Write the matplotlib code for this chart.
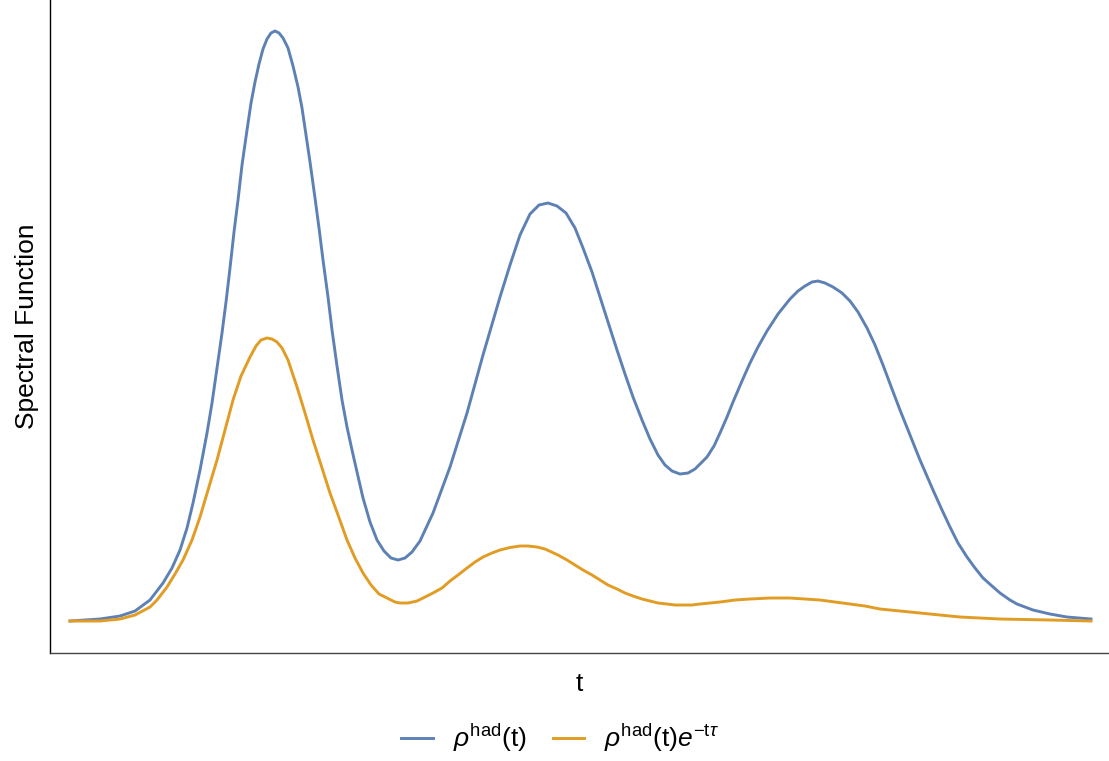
import numpy as np
import matplotlib
matplotlib.use("Agg")
import matplotlib.pyplot as plt

plt.rcParams['font.family'] = ['Liberation Sans', 'DejaVu Sans']
plt.rcParams['mathtext.fontset'] = 'custom'
plt.rcParams['mathtext.rm'] = 'Liberation Sans'
plt.rcParams['mathtext.it'] = 'Liberation Sans:italic'

# values (arbitrary units, no ticks on the original)
t_had = [0.00, 0.30, 0.50, 0.65, 0.80, 0.93, 1.02, 1.10, 1.17, 1.23, 1.30, 1.37,
         1.42, 1.47, 1.52, 1.56, 1.60, 1.64, 1.68, 1.72, 1.77, 1.81, 1.85, 1.89,
         1.93, 1.97, 2.01, 2.05, 2.09, 2.13, 2.18, 2.23, 2.28, 2.32, 2.36, 2.40,
         2.45, 2.49, 2.53, 2.58, 2.62, 2.67, 2.72, 2.77, 2.82, 2.87, 2.93, 3.00,
         3.07, 3.14, 3.21, 3.28, 3.35, 3.42, 3.50, 3.63, 3.80, 3.97, 4.13, 4.30,
         4.40, 4.50, 4.60, 4.69, 4.78, 4.87, 4.96, 5.05, 5.13, 5.22, 5.30, 5.38,
         5.47, 5.55, 5.63, 5.72, 5.80, 5.88, 5.95, 6.02, 6.10, 6.18, 6.25, 6.37,
         6.44, 6.50, 6.57, 6.63, 6.72, 6.80, 6.88, 6.97, 7.08, 7.20, 7.28, 7.35,
         7.42, 7.48, 7.55, 7.63, 7.72, 7.80, 7.88, 7.97, 8.05, 8.13, 8.22, 8.30,
         8.40, 8.50, 8.63, 8.72, 8.80, 8.88, 8.97, 9.05, 9.13, 9.22, 9.30, 9.40,
         9.47, 9.55, 9.63, 9.80, 9.97, 10.21]
rho_had = [0.00, 0.02, 0.05, 0.10, 0.21, 0.38, 0.53, 0.71, 0.93, 1.18, 1.51, 1.88,
           2.18, 2.53, 2.88, 3.19, 3.53, 3.89, 4.21, 4.56, 4.91, 5.18, 5.39, 5.57,
           5.72, 5.82, 5.88, 5.90, 5.88, 5.83, 5.73, 5.55, 5.34, 5.13, 4.86, 4.59,
           4.23, 3.93, 3.61, 3.24, 2.91, 2.55, 2.21, 1.94, 1.71, 1.49, 1.23, 0.99,
           0.81, 0.70, 0.63, 0.61, 0.63, 0.69, 0.80, 1.08, 1.54, 2.08, 2.66, 3.24,
           3.56, 3.86, 4.07, 4.16, 4.18, 4.15, 4.08, 3.93, 3.73, 3.49, 3.24, 2.99,
           2.71, 2.47, 2.24, 2.01, 1.82, 1.66, 1.56, 1.50, 1.47, 1.48, 1.52, 1.64,
           1.75, 1.88, 2.04, 2.19, 2.40, 2.58, 2.74, 2.90, 3.07, 3.22, 3.30, 3.35,
           3.39, 3.40, 3.38, 3.34, 3.28, 3.20, 3.09, 2.93, 2.76, 2.56, 2.32, 2.11,
           1.86, 1.61, 1.31, 1.11, 0.94, 0.78, 0.64, 0.53, 0.43, 0.35, 0.28, 0.21,
           0.17, 0.14, 0.11, 0.07, 0.04, 0.02]

t_weighted = [0.00, 0.30, 0.50, 0.65, 0.80, 0.87, 0.97, 1.05, 1.13, 1.22, 1.30, 1.38,
              1.47, 1.55, 1.63, 1.71, 1.80, 1.86, 1.91, 1.97, 2.02, 2.07, 2.12, 2.18,
              2.27, 2.35, 2.43, 2.52, 2.60, 2.68, 2.77, 2.85, 2.93, 3.01, 3.09, 3.17,
              3.25, 3.30, 3.38, 3.47, 3.55, 3.63, 3.72, 3.80, 3.88, 3.97, 4.05, 4.13,
              4.22, 4.30, 4.40, 4.50, 4.58, 4.67, 4.75, 4.88, 4.97, 5.05, 5.13, 5.22,
              5.30, 5.38, 5.47, 5.55, 5.63, 5.72, 5.80, 5.88, 5.97, 6.05, 6.13, 6.22,
              6.30, 6.40, 6.50, 6.65, 6.80, 7.00, 7.20, 7.35, 7.50, 7.65, 7.80, 7.95,
              8.10, 8.30, 8.50, 8.70, 8.90, 9.10, 9.30, 9.80, 10.21]
rho_weighted = [0.00, 0.00, 0.02, 0.06, 0.14, 0.21, 0.34, 0.47, 0.61, 0.81, 1.04, 1.31,
                1.61, 1.91, 2.21, 2.45, 2.64, 2.75, 2.81, 2.83, 2.82, 2.79, 2.73, 2.61,
                2.34, 2.08, 1.81, 1.53, 1.28, 1.06, 0.81, 0.63, 0.48, 0.36, 0.27, 0.23,
                0.19, 0.18, 0.18, 0.20, 0.24, 0.28, 0.33, 0.40, 0.46, 0.53, 0.59, 0.64,
                0.68, 0.71, 0.735, 0.75, 0.75, 0.74, 0.72, 0.66, 0.61, 0.56, 0.51, 0.46,
                0.41, 0.36, 0.32, 0.28, 0.25, 0.22, 0.20, 0.18, 0.17, 0.16, 0.16, 0.16,
                0.17, 0.18, 0.19, 0.21, 0.22, 0.23, 0.23, 0.22, 0.21, 0.19, 0.17, 0.15,
                0.12, 0.10, 0.08, 0.06, 0.04, 0.03, 0.02, 0.01, 0.00]

blue = '#5E81B5'
orange = '#E19C24'

fig = plt.figure(figsize=(11.09, 7.61), dpi=100)
ax = fig.add_axes([0.0451, 0.1419, 0.9549, 0.8581])

ax.plot(t_had, rho_had, color=blue, lw=2.1, label=r'$\rho^{\mathrm{had}}(\mathrm{t})$',
        solid_joinstyle='round')
ax.plot(t_weighted, rho_weighted, color=orange, lw=2.1,
        label=r'$\rho^{\mathrm{had}}(\mathrm{t})e^{-\mathrm{t}\tau}$', solid_joinstyle='round')

ax.set_xlim(-0.20, 10.39)
ax.set_ylim(-0.32, 6.21)
ax.set_xticks([])
ax.set_yticks([])
for s in ['top', 'right']:
    ax.spines[s].set_visible(False)
ax.spines['left'].set_color('black')
ax.spines['bottom'].set_color('#444444')
ax.spines['left'].set_linewidth(1.0)
ax.spines['bottom'].set_linewidth(1.0)

ax.set_ylabel('Spectral Function', fontsize=19, labelpad=8)
ax.set_xlabel('t', fontsize=19, labelpad=14)

fig.legend(loc='center', bbox_to_anchor=(0.505, 0.03), ncol=2, frameon=False,
           fontsize=19, handlelength=1.2, handletextpad=0.75, columnspacing=1.0)

fig.savefig('out.png', dpi=100)
